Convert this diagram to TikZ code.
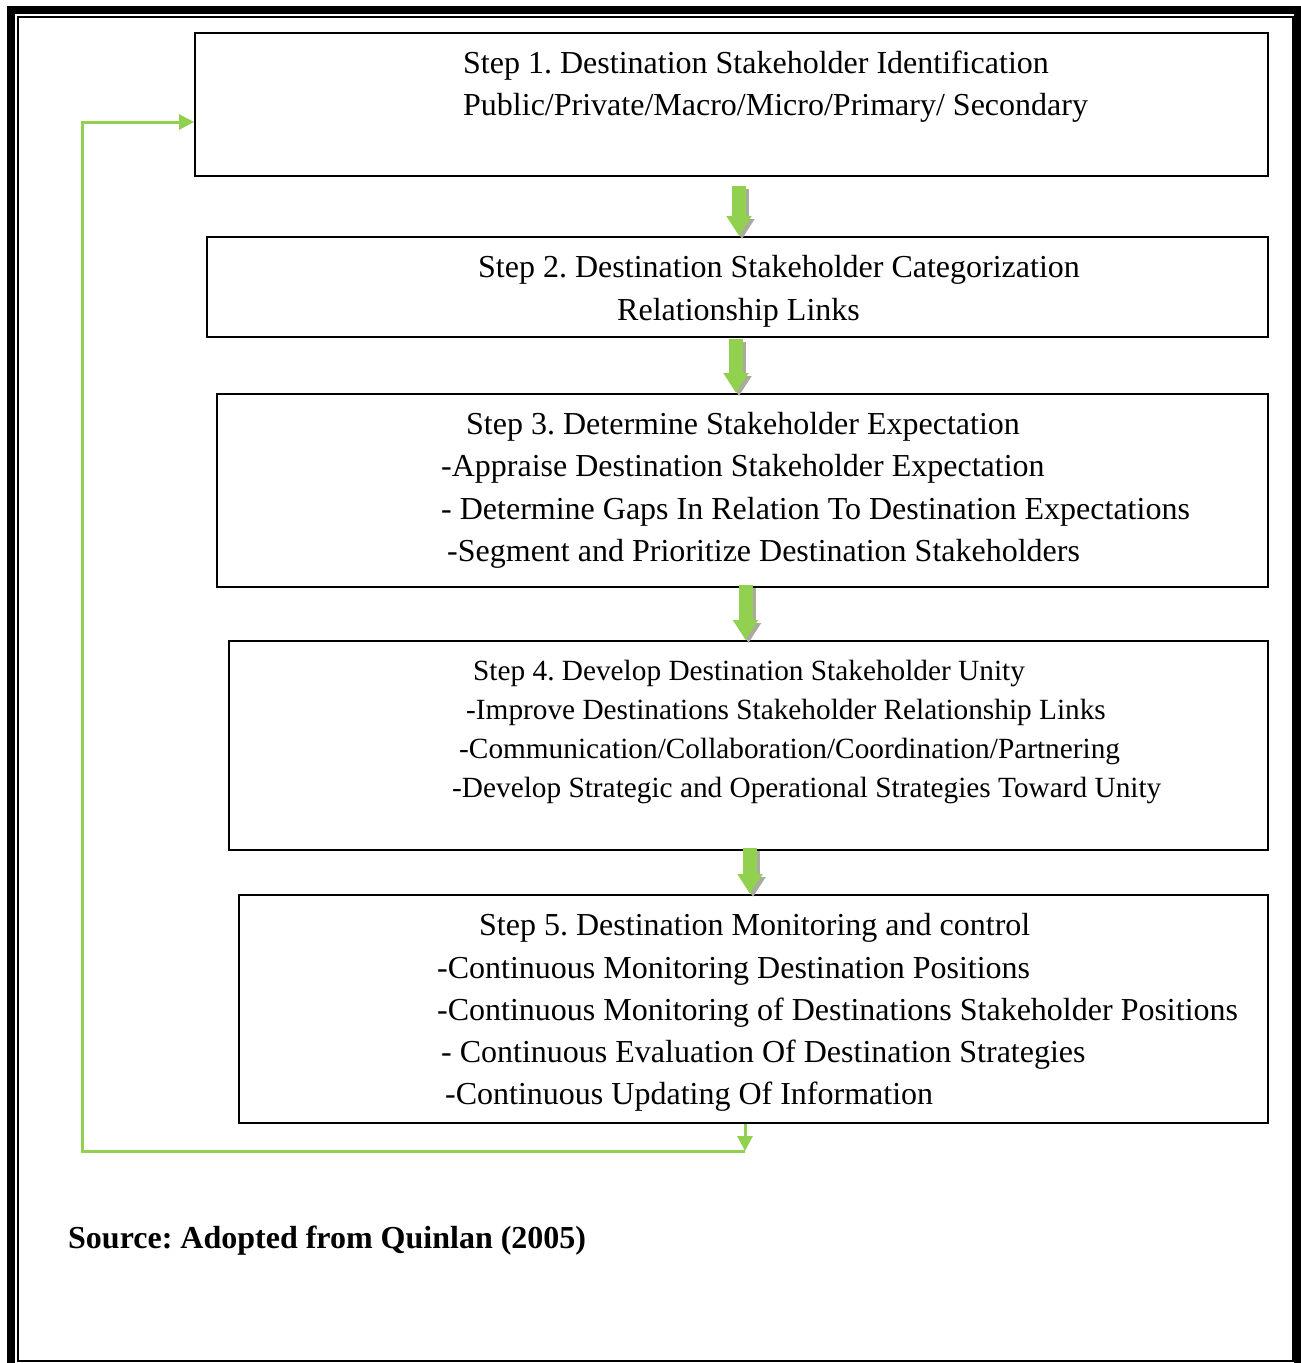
\documentclass[tikz,border=0pt]{standalone}
\usepackage{fontspec}
\setmainfont{Liberation Serif}
\usetikzlibrary{arrows.meta}

\definecolor{stepgreen}{RGB}{146,208,80}
\definecolor{shadowgray}{RGB}{170,170,160}

\begin{document}
\frenchspacing
\begin{tikzpicture}[x=1pt,y=-1pt,
  stepbox/.style={draw,line width=2pt,inner sep=0pt},
  txt/.style={anchor=base west,inner sep=0pt,font=\fontsize{32}{32}\selectfont},
  smalltxt/.style={anchor=base west,inner sep=0pt,font=\fontsize{29.3}{29.3}\selectfont},
  flow/.style={line width=14pt,draw=stepgreen,-{Triangle[width=24pt,length=20pt]}},
  flowshadow/.style={line width=14pt,draw=shadowgray,-{Triangle[width=24pt,length=20pt]},transform canvas={xshift=3pt,yshift=-3pt}},
  back/.style={line width=3pt,draw=stepgreen,-{Triangle[width=15pt,length=15pt]}}]

  \clip (0,0) rectangle (1301,1363);
  % outer frame
  \draw[line width=8pt] (11,10) rectangle (1298,1372);
  \draw[line width=2pt] (18,17) rectangle (1293,1361);

  % the five steps
  \node[stepbox,minimum width=1073,minimum height=143] (s1) at (731.5,104.5) {};
  \node[stepbox,minimum width=1061,minimum height=100] (s2) at (737.5,287) {};
  \node[stepbox,minimum width=1051,minimum height=193] (s3) at (742.5,490.5) {};
  \node[stepbox,minimum width=1039,minimum height=209] (s4) at (748.5,745.5) {};
  \node[stepbox,minimum width=1029,minimum height=228] (s5) at (753.5,1009) {};

  \node[txt] (t11) at (463,73) {Step 1. Destination Stakeholder Identification};
  \node[txt] (t12) at (463,115) {Public/Private/Macro/Micro/Primary/ Secondary};

  \node[txt] (t21) at (478,277) {Step 2. Destination Stakeholder Categorization};
  \node[txt] (t22) at (617,320) {Relationship Links};

  \node[txt] (t31) at (466,434) {Step 3. Determine Stakeholder Expectation};
  \node[txt] (t32) at (441,476) {-Appraise Destination Stakeholder Expectation};
  \node[txt] (t33) at (441,519) {- Determine Gaps In Relation To Destination Expectations};
  \node[txt] (t34) at (447,561) {-Segment and Prioritize Destination Stakeholders};

  \node[smalltxt] (t41) at (473,680) {Step 4. Develop Destination Stakeholder Unity};
  \node[smalltxt] (t42) at (466,719) {-Improve Destinations Stakeholder Relationship Links};
  \node[smalltxt] (t43) at (459,758) {-Communication/Collaboration/Coordination/Partnering};
  \node[smalltxt] (t44) at (452,797) {-Develop Strategic and Operational Strategies Toward Unity};

  \node[txt] (t51) at (479,935) {Step 5. Destination Monitoring and control};
  \node[txt] (t52) at (437,978) {-Continuous Monitoring Destination Positions};
  \node[txt] (t53) at (437,1020) {-Continuous Monitoring of Destinations Stakeholder Positions};
  \node[txt] (t54) at (441,1062) {- Continuous Evaluation Of Destination Strategies};
  \node[txt] (t55) at (445,1104) {-Continuous Updating Of Information};

  \node[txt,font=\fontsize{32}{32}\selectfont\bfseries] (src) at (68,1248) {Source: Adopted from Quinlan (2005)};

  % block arrows between steps
  \draw[flowshadow] ([shift={(7.5,9)}]s1.south) -- ([xshift=7.5]s1.south |- s2.north);
  \draw[flow] ([shift={(7.5,9)}]s1.south) -- ([xshift=7.5]s1.south |- s2.north);
  \draw[flowshadow] ([shift={(-1.5,1)}]s2.south) -- ([xshift=-1.5]s2.south |- s3.north);
  \draw[flow] ([shift={(-1.5,1)}]s2.south) -- ([xshift=-1.5]s2.south |- s3.north);
  \draw[flowshadow] ([shift={(3,-3)}]s3.south) -- ([xshift=3]s3.south |- s4.north);
  \draw[flow] ([shift={(3,-3)}]s3.south) -- ([xshift=3]s3.south |- s4.north);
  \draw[flowshadow] ([shift={(1.5,-3)}]s4.south) -- ([xshift=1.5]s4.south |- s5.north);
  \draw[flow] ([shift={(1.5,-3)}]s4.south) -- ([xshift=1.5]s4.south |- s5.north);

  % feedback loop
  \coordinate (fb) at (745,1151);
  \coordinate (corner) at (82,1151);
  \coordinate (fbin) at ([shift={(0,17.5)}]s1.west);
  \draw[back] (s5.south -| fb) -- (fb);
  \draw[back] (fb) -- (corner) |- (fbin);
\end{tikzpicture}
\end{document}
